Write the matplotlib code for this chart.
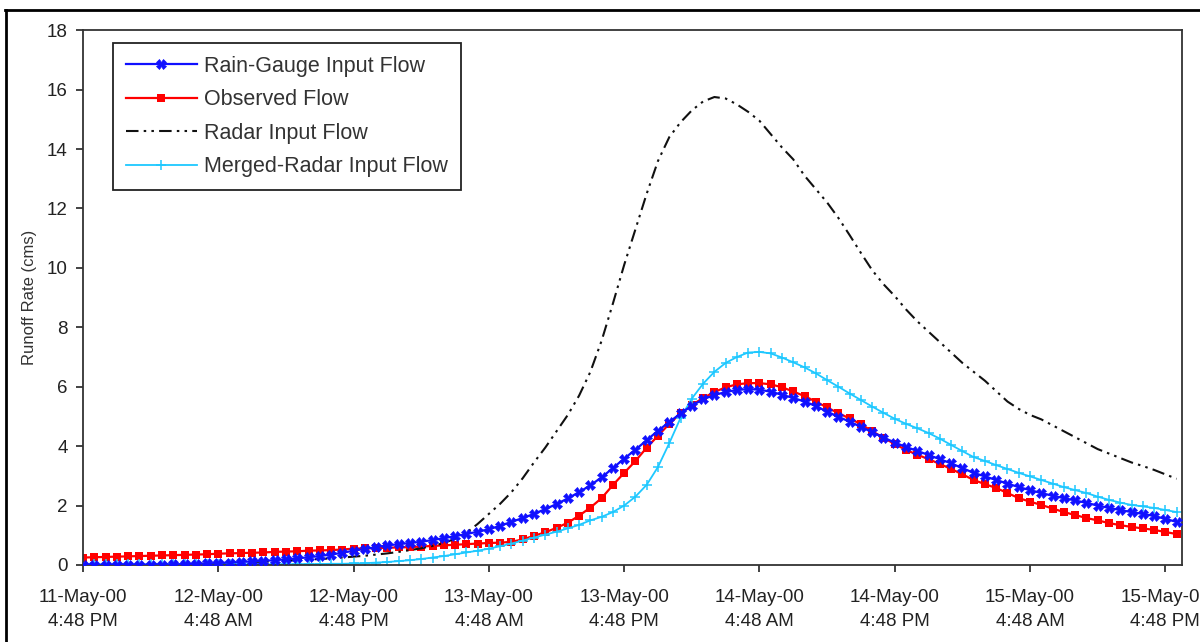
# Runoff hydrograph: rain gauge / observed / radar / merged radar flows
import matplotlib
matplotlib.use('Agg')
import matplotlib.pyplot as plt
from matplotlib.lines import Line2D

plt.rcParams['font.family'] = ['Liberation Sans', 'DejaVu Sans']

# hours since 11-May-00 4:48 PM, one value per hour
hours = list(range(98))

rain_gauge = [0.00, 0.00, 0.00, 0.00, 0.00, 0.01, 0.01, 0.01, 0.02, 0.03, 0.04, 0.05,
              0.07, 0.08, 0.10, 0.12, 0.14, 0.16, 0.19, 0.22, 0.26, 0.30, 0.35, 0.41,
              0.48, 0.54, 0.60, 0.66, 0.70, 0.74, 0.78, 0.84, 0.90, 0.97, 1.04, 1.12,
              1.20, 1.32, 1.45, 1.58, 1.72, 1.88, 2.05, 2.24, 2.45, 2.68, 2.95, 3.26,
              3.58, 3.88, 4.20, 4.52, 4.81, 5.10, 5.36, 5.58, 5.72, 5.82, 5.89, 5.92,
              5.90, 5.83, 5.73, 5.62, 5.50, 5.35, 5.16, 4.99, 4.82, 4.65, 4.47, 4.29,
              4.12, 3.97, 3.84, 3.70, 3.56, 3.42, 3.26, 3.10, 2.98, 2.86, 2.74, 2.62,
              2.52, 2.42, 2.33, 2.25, 2.17, 2.09, 2.00, 1.92, 1.85, 1.78, 1.72, 1.65,
              1.55, 1.45]

observed = [0.25, 0.26, 0.27, 0.28, 0.29, 0.30, 0.31, 0.32, 0.33, 0.34, 0.35, 0.36,
            0.38, 0.39, 0.40, 0.41, 0.42, 0.44, 0.45, 0.46, 0.48, 0.49, 0.50, 0.52,
            0.55, 0.56, 0.57, 0.58, 0.59, 0.60, 0.62, 0.64, 0.66, 0.68, 0.70, 0.72,
            0.74, 0.75, 0.78, 0.86, 0.98, 1.10, 1.25, 1.42, 1.66, 1.93, 2.25, 2.69,
            3.10, 3.50, 3.95, 4.35, 4.75, 5.10, 5.38, 5.62, 5.82, 5.98, 6.08, 6.12,
            6.12, 6.08, 5.98, 5.84, 5.68, 5.50, 5.30, 5.11, 4.93, 4.74, 4.50, 4.28,
            4.07, 3.87, 3.71, 3.56, 3.40, 3.23, 3.05, 2.86, 2.72, 2.59, 2.42, 2.25,
            2.13, 2.02, 1.90, 1.78, 1.68, 1.58, 1.50, 1.41, 1.34, 1.28, 1.23, 1.18,
            1.11, 1.04]

radar = [0.02, 0.02, 0.02, 0.02, 0.02, 0.02, 0.02, 0.02, 0.02, 0.02, 0.04, 0.05,
         0.06, 0.07, 0.08, 0.10, 0.11, 0.12, 0.14, 0.16, 0.18, 0.20, 0.22, 0.25,
         0.28, 0.31, 0.35, 0.39, 0.44, 0.50, 0.56, 0.64, 0.74, 0.88, 1.08, 1.38,
         1.72, 2.06, 2.45, 2.92, 3.45, 3.95, 4.50, 5.05, 5.70, 6.50, 7.55, 8.80,
         10.10, 11.30, 12.50, 13.60, 14.40, 14.90, 15.30, 15.60, 15.75, 15.70, 15.50, 15.25,
         14.95, 14.50, 14.05, 13.65, 13.10, 12.65, 12.20, 11.68, 11.10, 10.50, 9.92, 9.45,
         9.05, 8.60, 8.20, 7.85, 7.50, 7.15, 6.80, 6.50, 6.20, 5.85, 5.50, 5.25,
         5.05, 4.90, 4.70, 4.50, 4.30, 4.10, 3.90, 3.75, 3.60, 3.45, 3.33, 3.20,
         3.05, 2.90]

merged_radar = [0.02, 0.02, 0.02, 0.02, 0.02, 0.02, 0.02, 0.02, 0.02, 0.02, 0.02, 0.02,
                0.02, 0.02, 0.02, 0.02, 0.02, 0.02, 0.02, 0.03, 0.03, 0.03, 0.04, 0.04,
                0.05, 0.06, 0.08, 0.10, 0.13, 0.16, 0.20, 0.25, 0.30, 0.36, 0.42, 0.48,
                0.55, 0.63, 0.72, 0.82, 0.92, 1.02, 1.12, 1.23, 1.35, 1.50, 1.62, 1.78,
                2.00, 2.30, 2.70, 3.30, 4.10, 4.95, 5.60, 6.10, 6.50, 6.80, 7.00, 7.15,
                7.17, 7.12, 6.98, 6.82, 6.65, 6.45, 6.22, 6.00, 5.77, 5.55, 5.33, 5.12,
                4.92, 4.75, 4.60, 4.44, 4.25, 4.04, 3.83, 3.63, 3.50, 3.36, 3.23, 3.10,
                2.98, 2.86, 2.74, 2.62, 2.52, 2.42, 2.30, 2.19, 2.10, 2.02, 1.97, 1.92,
                1.85, 1.78]

tick_hours = [0, 12, 24, 36, 48, 60, 72, 84, 96]
tick_labels = ['11-May-00\n4:48 PM', '12-May-00\n4:48 AM', '12-May-00\n4:48 PM',
               '13-May-00\n4:48 AM', '13-May-00\n4:48 PM', '14-May-00\n4:48 AM',
               '14-May-00\n4:48 PM', '15-May-00\n4:48 AM', '15-May-00\n4:48 PM']

fig = plt.figure(figsize=(12, 6.42), dpi=100)
ax = fig.add_axes([0.0692, 0.12, 0.916, 0.833])

ax.plot(hours, rain_gauge, color='#1010ff', lw=1.6, marker='X', ms=7, mew=0.5,
        label='Rain-Gauge Input Flow', zorder=3)
ax.plot(hours, observed, color='#ff0000', lw=1.6, marker='s', ms=5.5, mew=0,
        label='Observed Flow', zorder=2)
ax.plot(hours, radar, color='#111111', lw=1.5, ls=(0, (6, 2.5, 1.2, 2.5, 1.2, 2.5)),
        label='Radar Input Flow', zorder=2)
ax.plot(hours, merged_radar, color='#1ec8ff', lw=1.3, marker='+', ms=7.5, mew=1.1,
        label='Merged-Radar Input Flow', zorder=2)

ax.set_xlim(0, 97.5)
ax.set_ylim(0, 18)
ax.set_yticks(range(0, 19, 2))
ax.set_xticks(tick_hours)
ax.set_xticklabels(tick_labels, linespacing=1.6)
ax.tick_params(axis='both', direction='out', length=5, width=1.2, colors='#222222',
               labelsize=13.5)
ax.tick_params(axis='x', pad=12)
ax.tick_params(axis='y', pad=6)
for s in ax.spines.values():
    s.set_linewidth(1.3)
    s.set_color('#333333')

ax.set_ylabel('Runoff Rate (cms)', fontsize=12, color='#333333', labelpad=7)

leg = ax.legend(loc='upper left', bbox_to_anchor=(0.027, 0.976), borderaxespad=0,
                fontsize=15.5, handlelength=3.3, labelspacing=0.58, borderpad=0.6,
                handletextpad=0.35, fancybox=False, framealpha=1)
leg.get_frame().set_edgecolor('#222222')
leg.get_frame().set_linewidth(1.3)
for t in leg.get_texts():
    t.set_color('#333333')

# outer frame of the original image (left and top edges)
fig.add_artist(Line2D([0.005, 0.005], [0, 0.985], transform=fig.transFigure,
                      color='black', lw=2))
fig.add_artist(Line2D([0.004, 1], [0.985, 0.985], transform=fig.transFigure,
                      color='black', lw=2))

fig.savefig('out.png', dpi=100)
